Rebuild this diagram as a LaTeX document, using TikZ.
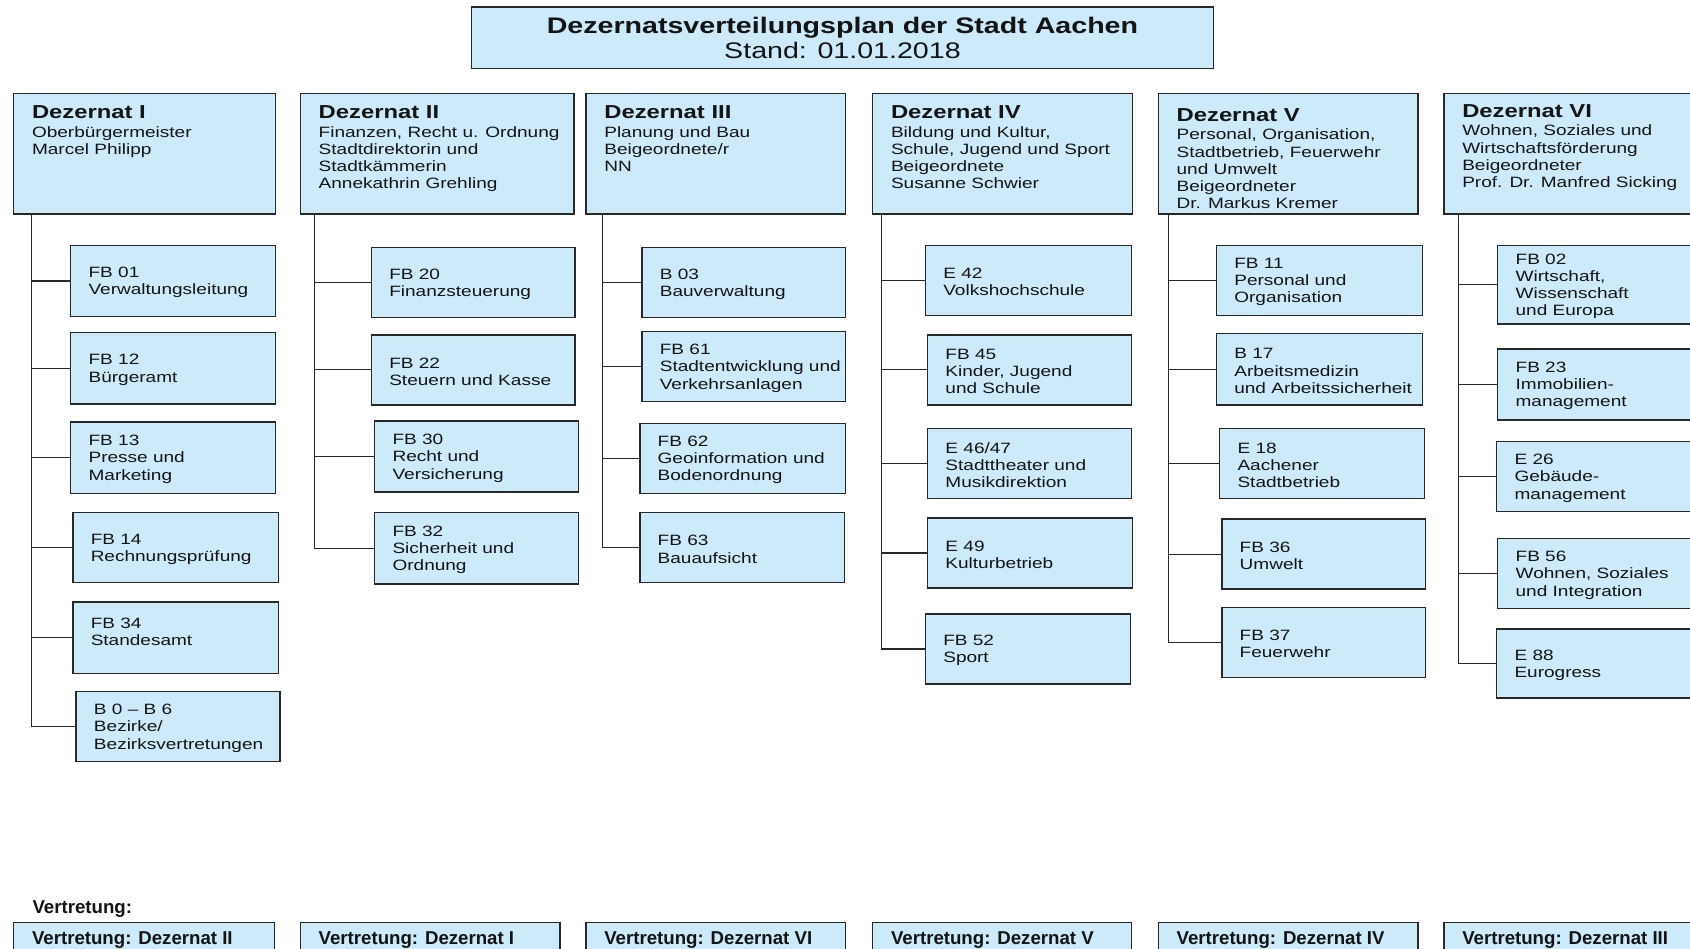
\documentclass[tikz,border=0pt]{standalone}
\usepackage{fontspec}
\setmainfont[FakeStretch=1.27]{Liberation Sans}
\newfontfamily\plainsans{Liberation Sans}
\definecolor{boxfill}{RGB}{204,234,250}
\definecolor{boxline}{RGB}{40,40,40}
\definecolor{txt}{RGB}{20,20,20}
\tikzset{
  unitbox/.style={draw=boxline, fill=boxfill, line width=1.3pt, inner sep=0pt, anchor=north west},
  unittext/.style={inner sep=0pt, align=left, anchor=west, text=txt, font=\fontsize{13.9}{16}\selectfont},
  deztext/.style={inner sep=0pt, align=left, anchor=north west, text=txt, font=\fontsize{13.9}{16}\selectfont},
  vtext/.style={inner sep=0pt, anchor=west, text=txt, font=\plainsans\bfseries\fontsize{17.3}{20}\selectfont},
  conn/.style={draw=boxline, line width=1.1pt},
}
\newcommand\hd[1]{{\bfseries\fontsize{17.4}{17}\selectfont #1}}
\newcommand\orgunit[7][]{%
  \node[unitbox, minimum width={(#5-#3)*1pt}, minimum height={(#6-#4)*1pt}] (#2) at (#3,#4) {};
  \node[unittext,#1] (#2t) at ([xshift=17pt,yshift=-1.5pt]#2.west) {#7};}
\newcommand\dezbox[5]{%
  \node[unitbox, minimum width={(#3-#2)*1pt}, minimum height=112pt] (#1) at (#2,86) {};
  \node[deztext] (#1t) at ([xshift=17.5pt,yshift=-#4pt]#1.north west) {#5};}
\begin{document}
\begin{tikzpicture}[x=1pt,y=-1pt]
\useasboundingbox (0,0) rectangle (1568,880);
\clip (0,0) rectangle (1568,880);
\fill[white] (0,0) rectangle (1568,880);

% title
\node[unitbox, minimum width=688pt, minimum height=57pt] (title) at (437,6) {};
\node[inner sep=0pt, align=center, text=txt, font=\fontsize{20.9}{24}\selectfont] (titlet) at (title.center)
  {{\bfseries Dezernatsverteilungsplan der Stadt Aachen}\\Stand: 01.01.2018};

% Dezernate
\dezbox{d1}{12}{255}{12}{\hd{Dezernat I}\\[1pt]Oberbürgermeister\\Marcel Philipp}
\dezbox{d2}{278}{532}{12}{\hd{Dezernat II}\\[1pt]Finanzen, Recht u. Ordnung\\Stadtdirektorin und\\Stadtkämmerin\\Annekathrin Grehling}
\dezbox{d3}{543}{784}{12}{\hd{Dezernat III}\\[1pt]Planung und Bau\\Beigeordnete/r\\NN}
\dezbox{d4}{809}{1050}{12}{\hd{Dezernat IV}\\[1pt]Bildung und Kultur,\\Schule, Jugend und Sport\\Beigeordnete\\Susanne Schwier}
\dezbox{d5}{1074}{1315}{14.5}{\hd{Dezernat V}\\[1pt]Personal, Organisation,\\Stadtbetrieb, Feuerwehr\\und Umwelt\\Beigeordneter\\Dr. Markus Kremer}
\dezbox{d6}{1339}{1580}{11}{\hd{Dezernat VI}\\[1pt]Wohnen, Soziales und\\Wirtschaftsförderung\\Beigeordneter\\Prof. Dr. Manfred Sicking}

% column I
\orgunit{u01}{65}{227}{255}{293}{FB 01\\Verwaltungsleitung}
\orgunit{u12}{65}{308}{255}{374}{FB 12\\Bürgeramt}
\orgunit{u13}{65}{391}{255}{457}{FB 13\\Presse und\\Marketing}
\orgunit{u14}{67}{475}{258}{540}{FB 14\\Rechnungsprüfung}
\orgunit[yshift=7pt]{u34}{67}{558}{258}{624}{FB 34\\Standesamt}
\orgunit{ub0}{70}{641}{259}{706}{B 0 – B 6\\Bezirke/\\Bezirksvertretungen}
% column II
\orgunit{u20}{344}{229}{533}{294}{FB 20\\Finanzsteuerung}
\orgunit{u22}{344}{310}{533}{375}{FB 22\\Steuern und Kasse}
\orgunit{u30}{347}{390}{536}{456}{FB 30\\Recht und\\Versicherung}
\orgunit{u32}{347}{475}{536}{541}{FB 32\\Sicherheit und\\Ordnung}
% column III
\orgunit{ub3}{595}{229}{784}{294}{B 03\\Bauverwaltung}
\orgunit{u61}{595}{307}{784}{372}{FB 61\\Stadtentwicklung und\\Verkehrsanlagen}
\orgunit{u62}{593}{392}{784}{457}{FB 62\\Geoinformation und\\Bodenordnung}
\orgunit{u63}{593}{475}{783}{540}{FB 63\\Bauaufsicht}
% column IV
\orgunit{ue42}{858}{227}{1049}{292}{E 42\\Volkshochschule}
\orgunit{u45}{860}{310}{1049}{375}{FB 45\\Kinder, Jugend\\und Schule}
\orgunit{ue46}{860}{397}{1049}{462}{E 46/47\\Stadttheater und\\Musikdirektion}
\orgunit{ue49}{860}{480}{1050}{545}{E 49\\Kulturbetrieb}
\orgunit{u52}{858}{569}{1048}{634}{FB 52\\Sport}
% column V
\orgunit{u11}{1128}{227}{1319}{292}{FB 11\\Personal und\\Organisation}
\orgunit{ub17}{1128}{309}{1319}{375}{B 17\\Arbeitsmedizin\\und Arbeitssicherheit}
\orgunit{ue18}{1131}{397}{1321}{462}{E 18\\Aachener\\Stadtbetrieb}
\orgunit{u36}{1133}{481}{1322}{546}{FB 36\\Umwelt}
\orgunit{u37}{1133}{563}{1322}{628}{FB 37\\Feuerwehr}
% column VI
\orgunit{u02}{1389}{227}{1580}{300}{FB 02\\Wirtschaft,\\Wissenschaft\\und Europa}
\orgunit{u23}{1389}{323}{1580}{389}{FB 23\\Immobilien-\\management}
\orgunit{ue26}{1388}{409}{1580}{474}{E 26\\Gebäude-\\management}
\orgunit{u56}{1389}{499}{1580}{564}{FB 56\\Wohnen, Soziales\\und Integration}
\orgunit{ue88}{1388}{583}{1580}{647}{E 88\\Eurogress}

% connectors
\foreach \c in {u01,u12,u13,u14,u34,ub0} \draw[conn] ([xshift=17pt]d1.south west) |- (\c.west);
\foreach \c in {u20,u22,u30,u32} \draw[conn] ([xshift=14pt]d2.south west) |- (\c.west);
\foreach \c in {ub3,u61,u62,u63} \draw[conn] ([xshift=16pt]d3.south west) |- (\c.west);
\foreach \c in {ue42,u45,ue46,ue49,u52} \draw[conn] ([xshift=9pt]d4.south west) |- (\c.west);
\foreach \c in {u11,ub17,ue18,u36,u37} \draw[conn] ([xshift=10pt]d5.south west) |- (\c.west);
\foreach \c in {u02,u23,ue26,u56,ue88} \draw[conn] ([xshift=14pt]d6.south west) |- (\c.west);

% Vertretung
\node[vtext] (vlabel) at (30,843) {Vertretung:};
\node[unitbox, minimum width=242pt, minimum height=40pt] (v1) at (12,855) {};
\node[vtext] (v1t) at ([xshift=17.5pt,yshift=-17pt]v1.north west) {Vertretung: Dezernat II};
\node[unitbox, minimum width=241pt, minimum height=40pt] (v2) at (278,855) {};
\node[vtext] (v2t) at ([xshift=17.5pt,yshift=-17pt]v2.north west) {Vertretung: Dezernat I};
\node[unitbox, minimum width=241pt, minimum height=40pt] (v3) at (543,855) {};
\node[vtext] (v3t) at ([xshift=17.5pt,yshift=-17pt]v3.north west) {Vertretung: Dezernat VI};
\node[unitbox, minimum width=240pt, minimum height=40pt] (v4) at (809,855) {};
\node[vtext] (v4t) at ([xshift=17.5pt,yshift=-17pt]v4.north west) {Vertretung: Dezernat V};
\node[unitbox, minimum width=241pt, minimum height=40pt] (v5) at (1074,855) {};
\node[vtext] (v5t) at ([xshift=17.5pt,yshift=-17pt]v5.north west) {Vertretung: Dezernat IV};
\node[unitbox, minimum width=241pt, minimum height=40pt] (v6) at (1339,855) {};
\node[vtext] (v6t) at ([xshift=17.5pt,yshift=-17pt]v6.north west) {Vertretung: Dezernat III};
\end{tikzpicture}
\end{document}
